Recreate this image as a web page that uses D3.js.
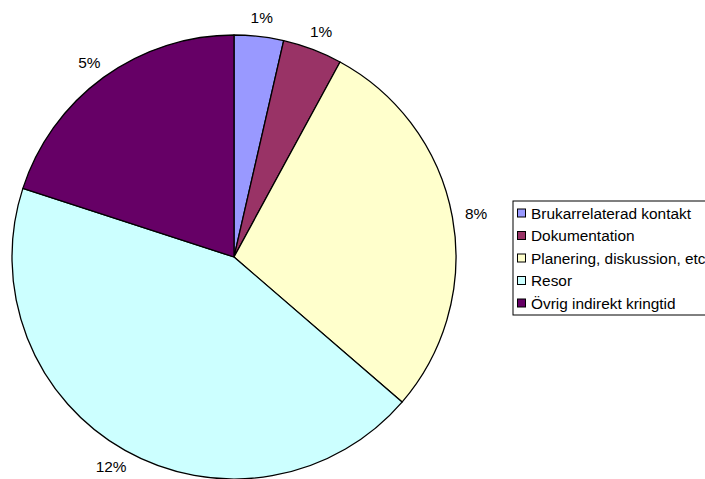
<!DOCTYPE html>
<html>
<head>
<meta charset="utf-8">
<script src="https://cdn.jsdelivr.net/npm/d3@7"></script>
<style>
  html, body { margin: 0; padding: 0; background: #fff; }
  svg { display: block; font-family: "Liberation Sans", Arial, sans-serif; }
</style>
</head>
<body>
<svg id="chart" width="705" height="479"></svg>
<script>
// Share of working time per activity (percent)
const categories = [
  "Brukarrelaterad kontakt",
  "Dokumentation",
  "Planering, diskussion, etc",
  "Resor",
  "Övrig indirekt kringtid"
];
const values = [0.97, 1.17, 7.67, 11.79, 5.40];
const colors = ["#9999FF", "#993366", "#FFFFCC", "#CCFFFF", "#660066"];

const svg = d3.select("#chart");
const cx = 234, cy = 257, radius = 222, labelRadius = 235;
const fontSize = 15.4;

const data = categories.map((name, i) => ({ name, value: values[i], color: colors[i] }));

const pie = d3.pie().sort(null).value(d => d.value).startAngle(0).endAngle(2 * Math.PI);
const arcs = pie(data);

const arc = d3.arc().innerRadius(0).outerRadius(radius);

const g = svg.append("g").attr("transform", `translate(${cx},${cy})`);

g.selectAll("path.slice")
  .data(arcs)
  .join("path")
  .attr("class", "slice")
  .attr("d", arc)
  .attr("fill", d => d.data.color)
  .attr("stroke", "#000")
  .attr("stroke-width", 1.3)
  .attr("stroke-linejoin", "round");

// Percentage labels sit just outside the rim, pushed out by half their own size
const pct = d3.format(".0f");
const labels = g.selectAll("text.pct")
  .data(arcs)
  .join("text")
  .attr("class", "pct")
  .attr("text-anchor", "middle")
  .attr("dominant-baseline", "central")
  .attr("font-size", fontSize)
  .attr("fill", "#000")
  .text(d => pct(d.data.value) + "%");

labels.each(function (d) {
  const w = this.getComputedTextLength();
  const h = fontSize * 0.78;
  const a = (d.startAngle + d.endAngle) / 2;
  const s = Math.sin(a), c = Math.cos(a);
  const x = s * (labelRadius + w / 2);
  const y = -c * (labelRadius + h / 2);
  d3.select(this).attr("transform", `translate(${x},${y})`);
});

// Legend
const legendX = 513, legendY = 201, legendW = 200, legendH = 114;
const legend = svg.append("g");
legend.append("rect")
  .attr("x", legendX).attr("y", legendY)
  .attr("width", legendW).attr("height", legendH)
  .attr("fill", "#fff").attr("stroke", "#000").attr("stroke-width", 1);

const rowY = d3.scalePoint().domain(categories).range([legendY + 12, legendY + 102]);

const items = legend.selectAll("g.item")
  .data(data)
  .join("g")
  .attr("class", "item")
  .attr("transform", d => `translate(${legendX + 4},${rowY(d.name)})`);

items.append("rect")
  .attr("x", 0.5).attr("y", -4)
  .attr("width", 8).attr("height", 8)
  .attr("fill", d => d.color)
  .attr("stroke", "#000").attr("stroke-width", 1);

items.append("text")
  .attr("x", 14)
  .attr("dominant-baseline", "central")
  .attr("font-size", fontSize)
  .attr("fill", "#000")
  .text(d => d.name);
</script>
</body>
</html>
